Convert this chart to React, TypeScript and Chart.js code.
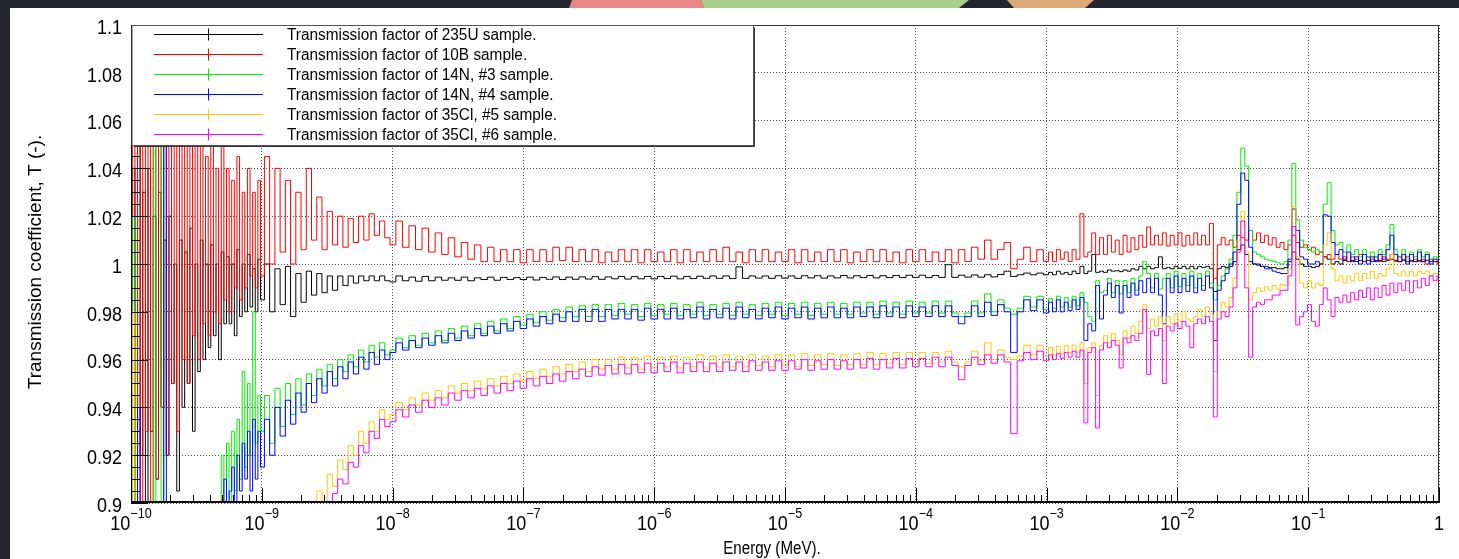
import React, { useEffect, useRef } from "react";
import { Chart, registerables } from "chart.js";

Chart.register(...registerables);

// ---------- energy grid: log10(E / MeV) ----------
const LOGE_A = [
  -10.0, -9.98, -9.96, -9.94, -9.92, -9.9, -9.88, -9.86, -9.84, -9.82,
  -9.8, -9.78, -9.76, -9.74, -9.72, -9.7, -9.68, -9.66, -9.64, -9.62,
  -9.6, -9.58, -9.56, -9.54, -9.52, -9.5, -9.48, -9.46, -9.44, -9.42,
  -9.4, -9.38, -9.36, -9.34, -9.32, -9.3, -9.28, -9.26, -9.24, -9.22,
  -9.2, -9.18, -9.16, -9.14, -9.12, -9.1, -9.08, -9.06, -9.04, -9.02,
];
const LOGE_B = [
  -9.0, -8.96, -8.92, -8.88, -8.84, -8.8, -8.76, -8.72, -8.68, -8.64,
  -8.6, -8.56, -8.52, -8.48, -8.44, -8.4, -8.36, -8.32, -8.28, -8.24,
  -8.2, -8.16, -8.12, -8.08, -8.04,
];
const LOGE_C = [
  -8.0, -7.95, -7.9, -7.85, -7.8, -7.75, -7.7, -7.65, -7.6, -7.55,
  -7.5, -7.45, -7.4, -7.35, -7.3, -7.25, -7.2, -7.15, -7.1, -7.05,
  -7.0, -6.95, -6.9, -6.85, -6.8, -6.75, -6.7, -6.65, -6.6, -6.55,
  -6.5, -6.45, -6.4, -6.35, -6.3, -6.25, -6.2, -6.15, -6.1, -6.05,
  -6.0, -5.95, -5.9, -5.85, -5.8, -5.75, -5.7, -5.65, -5.6, -5.55,
  -5.5, -5.45, -5.4, -5.35, -5.3, -5.25, -5.2, -5.15, -5.1, -5.05,
  -5.0, -4.95, -4.9, -4.85, -4.8, -4.75, -4.7, -4.65, -4.6, -4.55,
  -4.5, -4.45, -4.4, -4.35, -4.3, -4.25, -4.2, -4.15, -4.1, -4.05,
  -4.0, -3.95, -3.9, -3.85, -3.8, -3.75, -3.7, -3.65, -3.6, -3.55,
  -3.5, -3.45, -3.4, -3.35, -3.3, -3.25, -3.2, -3.15, -3.1, -3.05,
];
const LOGE_D = [
  -3.0, -2.97, -2.94, -2.91, -2.88, -2.85, -2.82, -2.79, -2.76, -2.73,
  -2.7, -2.67, -2.64, -2.61, -2.58, -2.55, -2.52, -2.49, -2.46, -2.43,
  -2.4, -2.37, -2.34, -2.31, -2.28, -2.25, -2.22, -2.19, -2.16, -2.13,
  -2.1, -2.07, -2.04, -2.01, -1.98, -1.95, -1.92, -1.89, -1.86, -1.83,
  -1.8, -1.77, -1.74, -1.71, -1.68, -1.65, -1.62, -1.59, -1.56, -1.53,
  -1.5, -1.47, -1.44, -1.41, -1.38, -1.35, -1.32, -1.29, -1.26, -1.23,
  -1.2, -1.17, -1.14, -1.11, -1.08, -1.05, -1.02, -0.99, -0.96, -0.93,
  -0.9, -0.87, -0.84, -0.81, -0.78, -0.75, -0.72, -0.69, -0.66, -0.63,
  -0.6, -0.57, -0.54, -0.51, -0.48, -0.45, -0.42, -0.39, -0.36, -0.33,
  -0.3, -0.27, -0.24, -0.21, -0.18, -0.15, -0.12, -0.09, -0.06, -0.03,
  0.0,
];

// ---------- 235U sample (black) ----------
const U235_A = [
  0.95, 1.04, 0.9, 1.05, 0.92, 1.03, 0.9, 1.04, 0.93, 1.02,
  0.91, 1.03, 0.94, 1.01, 0.92, 1.02, 0.95, 1.0, 0.905, 1.01,
  0.94, 1.005, 0.95, 1.015, 0.93, 1.0, 0.955, 1.01, 0.96, 1.0,
  0.965, 1.008, 0.97, 1.0, 0.96, 1.005, 0.975, 1.003, 0.975, 1.0,
  0.97, 1.006, 0.978, 1.0, 0.98, 1.004, 0.982, 0.998, 0.98, 1.002,
];
const U235_B = [
  0.985, 1.0, 0.98, 0.998, 0.983, 0.999, 0.978, 0.996, 0.984, 0.997,
  0.987, 0.996, 0.988, 0.995, 0.989, 0.995, 0.991, 0.995, 0.992, 0.995,
  0.993, 0.995, 0.993, 0.995, 0.993,
];
const U235_C = [
  0.9925, 0.995, 0.993, 0.9945, 0.9928, 0.9948, 0.993, 0.9945, 0.9932, 0.9942,
  0.9932, 0.9945, 0.993, 0.9942, 0.9935, 0.9945, 0.9932, 0.9944, 0.9935, 0.9943,
  0.9935, 0.9945, 0.9933, 0.9944, 0.9936, 0.9946, 0.9935, 0.9945, 0.9936, 0.9946,
  0.9937, 0.9947, 0.9936, 0.9946, 0.9938, 0.9948, 0.9937, 0.9947, 0.9938, 0.9948,
  0.9938, 0.9948, 0.9939, 0.9949, 0.9938, 0.9948, 0.9939, 0.9949, 0.994, 0.995,
  0.994, 0.995, 0.9939, 0.9988, 0.994, 0.995, 0.9941, 0.995, 0.994, 0.9951,
  0.9941, 0.995, 0.994, 0.9951, 0.9942, 0.9951, 0.9941, 0.995, 0.9942, 0.9952,
  0.9942, 0.9951, 0.9943, 0.9952, 0.9942, 0.9951, 0.9943, 0.9952, 0.9943, 0.9953,
  0.9944, 0.9953, 0.9943, 0.9952, 0.9944, 0.9997, 0.9944, 0.9953, 0.9945, 0.9954,
  0.9945, 0.9955, 0.9946, 0.9956, 0.997, 0.9948, 0.9955, 0.9962, 0.9955, 0.9962,
];
const U235_D = [
  0.9955, 0.9965, 0.9955, 0.997, 0.9958, 0.9965, 0.9956, 0.997, 0.996, 0.999,
  0.996, 0.997, 1.004, 0.9965, 0.997, 0.9965, 0.9975, 0.997, 0.9972, 0.9968,
  0.9975, 0.997, 0.998, 0.9975, 0.999, 0.998, 0.999, 0.998, 0.9985, 1.003,
  0.998, 0.9985, 0.998, 0.999, 0.9982, 0.999, 0.998, 0.999, 0.998, 0.999,
  0.9985, 0.999, 0.998, 0.9885, 0.998, 0.999, 0.9985, 0.999, 1.001, 1.006,
  1.008, 1.004, 1.001, 1.0, 0.9995, 0.999, 0.999, 0.9985, 0.9985, 0.998,
  0.998, 0.9985, 1.001, 1.005, 1.002, 1.0, 0.999, 0.999, 0.9985, 0.999,
  1.0, 1.003, 1.002, 1.0, 1.001, 1.0, 1.0015, 1.001, 1.0015, 1.001,
  1.0015, 1.001, 1.0015, 1.001, 1.0015, 1.0015, 1.001, 1.0015, 1.002, 1.0015,
  1.001, 1.0015, 1.001, 1.0015, 1.001, 1.0015, 1.001, 1.0015, 1.001, 1.001,
  1.001,
];

// ---------- 10B sample (red) ----------
const B10_A = [
  0.9, 1.1, 0.92, 1.1, 0.9, 1.08, 0.93, 1.1, 0.9, 1.06,
  0.91, 1.1, 0.94, 1.07, 0.92, 1.09, 0.95, 1.06, 0.93, 1.08,
  0.96, 1.05, 0.95, 1.07, 0.97, 1.05, 0.96, 1.06, 0.975, 1.045,
  0.97, 1.05, 0.98, 1.04, 0.975, 1.05, 0.985, 1.04, 0.98, 1.035,
  0.99, 1.045, 0.985, 1.03, 0.99, 1.04, 0.995, 1.03, 0.99, 1.035,
];
const B10_B = [
  0.995, 1.045, 1.0, 1.04, 1.005, 1.035, 1.0, 1.03, 1.006, 1.04,
  1.01, 1.028, 1.006, 1.022, 1.008, 1.02, 1.007, 1.019, 1.009, 1.02,
  1.01, 1.021, 1.012, 1.018, 1.011,
];
const B10_C = [
  1.008, 1.018, 1.007, 1.016, 1.006, 1.015, 1.005, 1.013, 1.004, 1.011,
  1.003, 1.009, 1.002, 1.008, 1.001, 1.007, 1.001, 1.006, 1.001, 1.006,
  1.0005, 1.006, 1.001, 1.006, 1.001, 1.007, 1.0015, 1.007, 1.001, 1.006,
  1.001, 1.006, 1.0005, 1.005, 1.001, 1.006, 1.001, 1.006, 1.0005, 1.006,
  1.001, 1.005, 1.001, 1.006, 1.0005, 1.006, 1.001, 1.005, 1.001, 1.006,
  1.001, 1.007, 1.001, 1.005, 1.0005, 1.006, 1.001, 1.006, 1.001, 1.005,
  1.001, 1.006, 1.0005, 1.006, 1.001, 1.005, 1.001, 1.006, 1.001, 1.006,
  1.0005, 1.005, 1.001, 1.006, 1.001, 1.006, 1.001, 1.005, 1.0005, 1.006,
  1.001, 1.006, 1.001, 1.005, 1.001, 1.006, 1.0005, 1.006, 1.001, 1.007,
  1.002, 1.01, 1.002, 1.006, 1.009, 0.998, 1.002, 1.007, 1.001, 1.006,
];
const B10_D = [
  1.001, 1.005, 1.001, 1.006, 1.002, 1.005, 1.001, 1.006, 1.002, 1.021,
  1.003, 1.005, 1.013, 1.004, 1.011, 1.004, 1.012, 1.005, 1.01, 1.004,
  1.012, 1.005, 1.011, 1.006, 1.012, 1.007, 1.0155, 1.008, 1.012, 1.008,
  1.013, 1.0075, 1.012, 1.008, 1.013, 1.0075, 1.012, 1.008, 1.013, 1.008,
  1.012, 1.008, 1.017, 0.994, 1.008, 1.011, 1.008, 1.01, 1.007, 1.012,
  1.011, 1.01, 1.014, 1.01, 1.013, 1.009, 1.012, 1.008, 1.011, 1.007,
  1.009, 1.006, 1.008, 1.012, 1.009, 1.007, 1.008, 1.006, 1.007, 1.004,
  1.005, 1.003, 1.004, 1.002, 1.004, 1.002, 1.003, 1.001, 1.003, 1.002,
  1.004, 1.001, 1.003, 1.002, 1.003, 1.001, 1.003, 1.002, 1.004, 1.001,
  1.003, 1.002, 1.003, 1.001, 1.002, 1.001, 1.002, 1.0, 1.002, 1.001,
  1.0,
];

// ---------- 14N, #3 sample (green) ----------
const N14_3_A = [
  0.9, 1.02, 0.9, 0.9, 0.9, 0.9, 0.9, 0.9, 0.9, 1.1,
  0.9, 0.9, 1.1, 0.9, 0.9, 0.9, 0.9, 0.9, 0.9, 0.9,
  0.9, 0.9, 0.9, 0.9, 0.9, 0.9, 0.9, 0.9, 0.9, 0.9,
  0.9, 0.9, 0.9, 0.9, 0.9, 0.92, 0.9, 0.925, 0.9, 0.93,
  0.905, 0.935, 0.91, 0.955, 0.915, 0.95, 0.92, 0.98, 0.925, 0.945,
];
const N14_3_B = [
  0.93, 0.945, 0.925, 0.948, 0.932, 0.95, 0.937, 0.952, 0.941, 0.954,
  0.945, 0.956, 0.949, 0.958, 0.952, 0.96, 0.955, 0.962, 0.957, 0.964,
  0.959, 0.966, 0.961, 0.967, 0.962,
];
const N14_3_C = [
  0.964, 0.969, 0.965, 0.97, 0.966, 0.971, 0.967, 0.972, 0.968, 0.973,
  0.969, 0.974, 0.97, 0.975, 0.971, 0.976, 0.972, 0.977, 0.973, 0.978,
  0.9745, 0.979, 0.9755, 0.98, 0.9765, 0.981, 0.9775, 0.982, 0.978, 0.9825,
  0.978, 0.983, 0.978, 0.983, 0.9785, 0.9835, 0.979, 0.983, 0.978, 0.9835,
  0.9785, 0.983, 0.979, 0.9835, 0.9785, 0.983, 0.979, 0.984, 0.9785, 0.983,
  0.979, 0.9835, 0.9785, 0.984, 0.979, 0.983, 0.9785, 0.9835, 0.979, 0.984,
  0.9785, 0.9835, 0.979, 0.984, 0.9785, 0.9835, 0.979, 0.984, 0.979, 0.9835,
  0.979, 0.984, 0.9795, 0.984, 0.979, 0.9845, 0.9795, 0.984, 0.979, 0.9845,
  0.9795, 0.984, 0.9795, 0.9845, 0.9795, 0.9845, 0.9795, 0.978, 0.9795, 0.9845,
  0.9795, 0.9875, 0.98, 0.985, 0.9815, 0.979, 0.9815, 0.9865, 0.982, 0.9865,
];
const N14_3_D = [
  0.981, 0.9855, 0.9815, 0.9865, 0.982, 0.986, 0.982, 0.9865, 0.9825, 0.988,
  0.984, 0.978, 0.976, 0.993, 0.988, 0.989, 0.994, 0.988, 0.993, 0.9875,
  0.993, 0.988, 0.994, 0.989, 0.995, 1.001, 0.996, 0.99, 0.996, 0.9895,
  0.994, 0.996, 0.99, 0.997, 0.9905, 0.996, 0.991, 0.997, 0.99, 0.996,
  0.991, 0.997, 0.992, 0.985, 0.991, 0.995, 0.998, 1.002, 1.012, 1.03,
  1.0485, 1.041, 1.014, 1.005, 1.004, 1.003, 1.002, 1.0015, 1.001, 1.0005,
  1.0, 1.001, 1.01, 1.042, 1.0185, 1.01, 1.007, 1.006, 1.005, 1.006,
  1.005, 1.025, 1.034, 1.014, 1.008, 1.009, 1.005, 1.008, 1.004, 1.006,
  1.003, 1.006, 1.003, 1.005, 1.003, 1.006, 1.004, 1.008, 1.0165, 1.006,
  1.003, 1.006, 1.002, 1.005, 1.003, 1.006, 1.003, 1.005, 1.002, 1.003,
  1.002,
];

// ---------- 14N, #4 sample (blue) ----------
const N14_4_A = [
  0.9, 0.9, 0.9, 0.94, 0.9, 0.9, 0.9, 0.9, 0.9, 0.9,
  0.9, 0.9, 0.9, 1.05, 0.9, 0.9, 0.9, 0.9, 0.9, 0.9,
  0.9, 0.9, 0.9, 0.9, 0.9, 0.9, 0.9, 0.9, 0.9, 0.9,
  0.9, 0.9, 0.9, 0.9, 0.9, 0.9, 0.91, 0.9, 0.905, 0.915,
  0.9, 0.92, 0.905, 0.925, 0.91, 0.93, 0.905, 0.935, 0.91, 0.93,
];
const N14_4_B = [
  0.915, 0.935, 0.92, 0.94, 0.928, 0.943, 0.933, 0.946, 0.938, 0.95,
  0.942, 0.952, 0.946, 0.955, 0.949, 0.957, 0.952, 0.959, 0.954, 0.961,
  0.956, 0.963, 0.958, 0.964, 0.96,
];
const N14_4_C = [
  0.963, 0.967, 0.964, 0.968, 0.965, 0.969, 0.966, 0.97, 0.967, 0.971,
  0.968, 0.972, 0.969, 0.973, 0.97, 0.974, 0.971, 0.975, 0.972, 0.976,
  0.973, 0.977, 0.974, 0.978, 0.975, 0.979, 0.976, 0.98, 0.976, 0.981,
  0.976, 0.981, 0.976, 0.981, 0.977, 0.981, 0.977, 0.981, 0.9765, 0.9815,
  0.977, 0.981, 0.977, 0.9815, 0.977, 0.981, 0.9775, 0.982, 0.977, 0.981,
  0.9775, 0.9815, 0.977, 0.982, 0.9775, 0.981, 0.977, 0.9815, 0.9775, 0.982,
  0.977, 0.9815, 0.9775, 0.982, 0.977, 0.9815, 0.9775, 0.982, 0.9775, 0.9815,
  0.9775, 0.982, 0.978, 0.982, 0.9775, 0.9825, 0.978, 0.982, 0.9775, 0.9825,
  0.978, 0.982, 0.978, 0.9825, 0.978, 0.9825, 0.978, 0.975, 0.978, 0.9825,
  0.978, 0.984, 0.9785, 0.983, 0.98, 0.963, 0.98, 0.985, 0.9805, 0.985,
];
const N14_4_D = [
  0.9795, 0.984, 0.98, 0.985, 0.98, 0.984, 0.9805, 0.985, 0.981, 0.986,
  0.968, 0.975, 0.972, 0.991, 0.977, 0.987, 0.992, 0.986, 0.991, 0.9795,
  0.991, 0.986, 0.992, 0.987, 0.993, 0.988, 0.994, 0.988, 0.994, 0.987,
  0.975, 0.994, 0.988, 0.995, 0.988, 0.994, 0.9885, 0.995, 0.988, 0.994,
  0.989, 0.995, 0.99, 0.968, 0.989, 0.993, 0.996, 1.0, 1.005, 1.025,
  1.038, 1.035, 1.007, 1.0, 1.0, 0.999, 0.998, 0.998, 0.997, 0.9965,
  0.996, 0.996, 1.002, 1.023, 1.014, 1.003, 1.002, 1.0, 1.0, 1.001,
  1.0, 1.0206, 1.02, 1.009, 1.004, 1.006, 1.002, 1.005, 1.001, 1.003,
  1.0, 1.004, 1.0, 1.003, 1.001, 1.004, 1.002, 1.006, 1.012, 1.004,
  1.001, 1.004, 1.0, 1.004, 1.001, 1.005, 1.001, 1.004, 1.0, 1.002,
  1.001,
];

// ---------- 35Cl, #5 sample (yellow) ----------
const CL35_5_A = [
  0.9, 0.98, 0.9, 0.9, 0.9, 0.9, 0.9, 0.9, 0.9, 0.9,
  0.9, 0.9, 0.9, 0.9, 0.9, 0.9, 0.9, 0.9, 0.9, 0.9,
  0.9, 0.9, 0.9, 0.9, 0.9, 0.9, 0.9, 0.9, 0.9, 0.9,
  0.9, 0.9, 0.9, 0.9, 0.9, 0.9, 0.9, 0.9, 0.9, 0.9,
  0.9, 0.9, 0.9, 0.9, 0.9, 0.9, 0.9, 0.9, 0.9, 0.9,
];
const CL35_5_B = [
  0.9, 0.9, 0.9, 0.9, 0.9, 0.9, 0.9, 0.9, 0.9, 0.9,
  0.9, 0.905, 0.9, 0.912, 0.907, 0.918, 0.914, 0.924, 0.92, 0.93,
  0.925, 0.934, 0.93, 0.939, 0.935,
];
const CL35_5_C = [
  0.937, 0.942, 0.939, 0.944, 0.941, 0.946, 0.943, 0.947, 0.944, 0.949,
  0.946, 0.95, 0.947, 0.951, 0.948, 0.952, 0.949, 0.953, 0.95, 0.954,
  0.951, 0.955, 0.952, 0.956, 0.953, 0.957, 0.954, 0.958, 0.955, 0.959,
  0.955, 0.96, 0.956, 0.96, 0.956, 0.961, 0.9565, 0.961, 0.956, 0.9615,
  0.9565, 0.961, 0.957, 0.9615, 0.9565, 0.961, 0.957, 0.962, 0.9565, 0.9615,
  0.957, 0.962, 0.957, 0.9615, 0.957, 0.962, 0.9575, 0.9615, 0.957, 0.962,
  0.9575, 0.962, 0.957, 0.9625, 0.9575, 0.962, 0.958, 0.9625, 0.9575, 0.962,
  0.958, 0.9625, 0.958, 0.963, 0.958, 0.9625, 0.9585, 0.963, 0.958, 0.963,
  0.9585, 0.963, 0.9585, 0.963, 0.959, 0.9635, 0.959, 0.957, 0.959, 0.9635,
  0.9595, 0.967, 0.96, 0.964, 0.961, 0.96, 0.9615, 0.966, 0.962, 0.966,
];
const CL35_5_D = [
  0.9615, 0.965, 0.962, 0.9655, 0.9625, 0.966, 0.963, 0.966, 0.963, 0.967,
  0.95, 0.965, 0.967, 0.945, 0.966, 0.97, 0.967, 0.971, 0.968, 0.962,
  0.972, 0.969, 0.974, 0.971, 0.976, 0.983, 0.973, 0.977, 0.974, 0.978,
  0.968, 0.978, 0.975, 0.979, 0.976, 0.98, 0.977, 0.976, 0.978, 0.981,
  0.978, 0.982, 0.979, 0.955, 0.98, 0.984, 0.982, 0.986, 0.994, 1.01,
  1.022, 1.005, 0.985, 0.988, 0.99, 0.9885, 0.9905, 0.989, 0.991, 0.9895,
  0.9915, 0.991, 0.998, 1.024, 1.003, 0.992, 0.99, 0.993, 0.99, 0.992,
  0.991, 1.008, 1.013, 0.998, 0.993, 0.995, 0.992, 0.995, 0.993, 0.996,
  0.993, 0.996, 0.994, 0.997, 0.994, 0.996, 0.995, 0.998, 1.004, 0.996,
  0.995, 0.997, 0.995, 0.997, 0.995, 0.997, 0.996, 0.997, 0.995, 0.996,
  0.996,
];

// ---------- 35Cl, #6 sample (magenta) ----------
const CL35_6_A = [
  0.9, 0.9, 0.9, 0.9, 0.9, 0.9, 0.9, 0.9, 0.9, 0.9,
  0.9, 0.9, 0.9, 0.9, 0.9, 0.9, 0.9, 0.9, 0.9, 0.9,
  0.9, 0.9, 0.9, 0.9, 0.9, 0.9, 0.9, 0.9, 0.9, 0.9,
  0.9, 0.9, 0.9, 0.9, 0.9, 0.9, 0.9, 0.9, 0.9, 0.9,
  0.9, 0.9, 0.9, 0.9, 0.9, 0.9, 0.9, 0.9, 0.9, 0.9,
];
const CL35_6_B = [
  0.9, 0.9, 0.9, 0.9, 0.9, 0.9, 0.9, 0.9, 0.9, 0.9,
  0.9, 0.9, 0.9, 0.9, 0.904, 0.91, 0.908, 0.917, 0.915, 0.924,
  0.921, 0.93, 0.927, 0.935, 0.932,
];
const CL35_6_C = [
  0.934, 0.939, 0.936, 0.941, 0.938, 0.943, 0.94, 0.944, 0.941, 0.946,
  0.943, 0.947, 0.944, 0.948, 0.945, 0.949, 0.946, 0.95, 0.947, 0.951,
  0.948, 0.952, 0.949, 0.953, 0.95, 0.954, 0.951, 0.955, 0.952, 0.956,
  0.953, 0.957, 0.9535, 0.9575, 0.954, 0.958, 0.954, 0.958, 0.9545, 0.9585,
  0.9545, 0.9585, 0.955, 0.959, 0.9545, 0.9585, 0.955, 0.959, 0.955, 0.9585,
  0.955, 0.959, 0.9555, 0.959, 0.955, 0.9595, 0.9555, 0.959, 0.9555, 0.9595,
  0.9555, 0.9595, 0.956, 0.96, 0.9555, 0.9595, 0.956, 0.96, 0.956, 0.9595,
  0.956, 0.96, 0.9565, 0.9605, 0.956, 0.96, 0.9565, 0.9605, 0.9565, 0.9605,
  0.957, 0.9605, 0.957, 0.961, 0.957, 0.961, 0.9575, 0.9516, 0.9575, 0.961,
  0.958, 0.962, 0.9585, 0.962, 0.959, 0.929, 0.9595, 0.963, 0.96, 0.9635,
];
const CL35_6_D = [
  0.9595, 0.962, 0.96, 0.9625, 0.9605, 0.963, 0.961, 0.9635, 0.961, 0.964,
  0.9335, 0.963, 0.965, 0.9314, 0.964, 0.967, 0.965, 0.968, 0.966, 0.9565,
  0.969, 0.967, 0.97, 0.968, 0.971, 0.981, 0.9537, 0.972, 0.97, 0.973,
  0.95, 0.974, 0.972, 0.975, 0.973, 0.976, 0.974, 0.965, 0.975, 0.977,
  0.975, 0.978, 0.976, 0.936, 0.977, 0.98, 0.978, 0.982, 0.99, 1.005,
  1.018, 0.99, 0.961, 0.982, 0.984, 0.983, 0.985, 0.985, 0.987, 0.987,
  0.989, 0.989, 0.995, 1.0157, 0.9745, 0.978, 0.98, 0.983, 0.976, 0.974,
  0.983, 0.99, 0.985, 0.978, 0.986, 0.984, 0.987, 0.984, 0.988, 0.985,
  0.989, 0.986, 0.99, 0.985, 0.99, 0.986, 0.991, 0.987, 0.992, 0.988,
  0.992, 0.989, 0.993, 0.988, 0.993, 0.99, 0.994, 0.991, 0.995, 0.993,
  0.995,
];

// ---------- labels / ticks ----------
const SERIES_NAMES = [
  "Transmission factor of 235U sample.",
  "Transmission factor of 10B sample.",
  "Transmission factor of 14N, #3 sample.",
  "Transmission factor of 14N, #4 sample.",
  "Transmission factor of 35Cl, #5 sample.",
  "Transmission factor of 35Cl, #6 sample.",
];
const SERIES_COLORS = ["#000000", "#ff0000", "#00ee00", "#0000ff", "#ffc800", "#ff00ff"];

const Y_TICK_VALUES = [0.9, 0.92, 0.94, 0.96, 0.98, 1.0, 1.02, 1.04, 1.06, 1.08, 1.1];
const Y_TICK_LABELS = ["0.9", "0.92", "0.94", "0.96", "0.98", "1", "1.02", "1.04", "1.06", "1.08", "1.1"];
const X_TICK_VALUES = [1e-10, 1e-9, 1e-8, 1e-7, 1e-6, 1e-5, 1e-4, 1e-3, 1e-2, 1e-1, 1];
const X_TICK_BASE = ["10", "10", "10", "10", "10", "10", "10", "10", "10", "10", "1"];
const X_TICK_SUP = ["\u221210", "\u22129", "\u22128", "\u22127", "\u22126", "\u22125", "\u22124", "\u22123", "\u22122", "\u22121", ""];

const X_TITLE = "Energy (MeV).";
const Y_TITLE = "Transmission coefficient, T (-).";

const FONT = '"Liberation Sans", Arial, Helvetica, sans-serif';

const ENERGY = [...LOGE_A, ...LOGE_B, ...LOGE_C, ...LOGE_D].map((e) => Math.pow(10, e));
const SERIES_VALUES = [
  [...U235_A, ...U235_B, ...U235_C, ...U235_D],
  [...B10_A, ...B10_B, ...B10_C, ...B10_D],
  [...N14_3_A, ...N14_3_B, ...N14_3_C, ...N14_3_D],
  [...N14_4_A, ...N14_4_B, ...N14_4_C, ...N14_4_D],
  [...CL35_5_A, ...CL35_5_B, ...CL35_5_C, ...CL35_5_D],
  [...CL35_6_A, ...CL35_6_B, ...CL35_6_C, ...CL35_6_D],
];

function squishText(ctx: CanvasRenderingContext2D, text: string, x: number, y: number, size: number, sx: number, align: CanvasTextAlign) {
  ctx.save();
  ctx.font = `${size}px ${FONT}`;
  ctx.translate(x, y);
  ctx.scale(sx, 1);
  ctx.textAlign = align;
  ctx.textBaseline = "alphabetic";
  ctx.fillStyle = "#000";
  ctx.fillText(text, 0, 0);
  ctx.restore();
}

const rootStylePlugin = {
  id: "rootStyle",
  afterDraw(chart: any) {
    const ctx: CanvasRenderingContext2D = chart.ctx;
    const a = chart.chartArea;
    const xs = chart.scales.x;
    const ys = chart.scales.y;
    ctx.save();

    // inner ticks
    ctx.strokeStyle = "#000";
    ctx.lineWidth = 1;
    ctx.beginPath();
    for (let d = -10; d <= 0; d++) {
      for (let m = 1; m <= 9; m++) {
        if (d === 0 && m > 1) break;
        const px = Math.round(xs.getPixelForValue(m * Math.pow(10, d))) + 0.5;
        const len = m === 1 ? 15 : 8;
        ctx.moveTo(px, a.bottom);
        ctx.lineTo(px, a.bottom - len);
      }
    }
    for (let k = 0; k <= 40; k++) {
      const py = Math.round(ys.getPixelForValue(0.9 + k * 0.005)) + 0.5;
      const len = k % 4 === 0 ? 17 : 9;
      ctx.moveTo(a.left, py);
      ctx.lineTo(a.left + len, py);
    }
    ctx.stroke();

    // frame
    ctx.strokeStyle = "#333";
    ctx.lineWidth = 1;
    ctx.strokeRect(a.left + 0.5, a.top + 0.5, a.right - a.left - 1, a.bottom - a.top - 1);
    ctx.strokeStyle = "#000";
    ctx.lineWidth = 2;
    ctx.beginPath();
    ctx.moveTo(a.left, a.bottom - 1);
    ctx.lineTo(a.right, a.bottom - 1);
    ctx.stroke();
    ctx.lineWidth = 1;
    ctx.beginPath();
    ctx.moveTo(a.left + 0.5, a.top);
    ctx.lineTo(a.left + 0.5, a.bottom);
    ctx.stroke();

    // legend
    const lx0 = a.left + 1, ly0 = a.top + 0.5, lx1 = 753.5, ly1 = 145.5;
    ctx.fillStyle = "#fff";
    ctx.fillRect(lx0, ly0, lx1 - lx0, ly1 - ly0);
    ctx.strokeStyle = "#555";
    ctx.strokeRect(lx0, ly0, lx1 - lx0, ly1 - ly0);
    ctx.strokeStyle = "#333";
    ctx.beginPath();
    ctx.moveTo(lx1 + 1, ly0 + 2);
    ctx.lineTo(lx1 + 1, ly1 + 1);
    ctx.lineTo(lx0 + 2, ly1 + 1);
    ctx.stroke();
    SERIES_NAMES.forEach((name, k) => {
      const ry = Math.round(34 + 20 * k) + 0.5;
      ctx.strokeStyle = SERIES_COLORS[k];
      ctx.lineWidth = 1;
      ctx.beginPath();
      ctx.moveTo(154, ry);
      ctx.lineTo(263, ry);
      ctx.moveTo(208.5, ry - 6);
      ctx.lineTo(208.5, ry + 6);
      ctx.stroke();
      squishText(ctx, name, 287, ry + 5.5, 16, 0.96, "left");
    });

    // y tick labels
    Y_TICK_VALUES.forEach((v, k) => {
      const py = ys.getPixelForValue(v);
      squishText(ctx, Y_TICK_LABELS[k], a.left - 9, py + 8.8, 20, 0.9, "right");
    });

    // x tick labels (10^n with superscript)
    X_TICK_VALUES.forEach((v, k) => {
      const px = xs.getPixelForValue(v);
      ctx.font = `20px ${FONT}`;
      const wb = ctx.measureText(X_TICK_BASE[k]).width * 0.9;
      ctx.font = `14px ${FONT}`;
      const ws = ctx.measureText(X_TICK_SUP[k]).width * 0.9;
      const x0 = px - (wb + ws) / 2;
      squishText(ctx, X_TICK_BASE[k], x0, 530, 20, 0.9, "left");
      if (X_TICK_SUP[k]) squishText(ctx, X_TICK_SUP[k], x0 + wb, 518, 14, 0.9, "left");
    });

    // axis titles
    squishText(ctx, X_TITLE, 772, 554, 18, 0.84, "center");
    ctx.save();
    ctx.translate(41, 262);
    ctx.rotate(-Math.PI / 2);
    ctx.font = `19px ${FONT}`;
    ctx.textAlign = "center";
    ctx.textBaseline = "alphabetic";
    ctx.fillStyle = "#000";
    ctx.fillText(Y_TITLE, 0, 0);
    ctx.restore();

    ctx.restore();
  },
};

export default function App() {
  const ref = useRef<HTMLCanvasElement | null>(null);

  useEffect(() => {
    if (!ref.current) return;
    const datasets = SERIES_VALUES.map((vals, k) => ({
      label: SERIES_NAMES[k],
      data: vals.map((v, i) => ({ x: ENERGY[i], y: v })),
      borderColor: SERIES_COLORS[k],
      backgroundColor: SERIES_COLORS[k],
      borderWidth: 1,
      pointRadius: 0,
      tension: 0,
      stepped: "middle",
      fill: false,
      order: 6 - k,
    }));
    const gridCommon = {
      color: "rgba(0,0,0,0.7)",
      lineWidth: 1,
      drawTicks: false,
    };
    const chart = new Chart(ref.current, {
      type: "line",
      data: { datasets },
      options: {
        responsive: false,
        animation: false,
        devicePixelRatio: 1,
        layout: { padding: { left: 131, top: 25, right: 20, bottom: 56 } },
        plugins: { legend: { display: false }, tooltip: { enabled: false } },
        scales: {
          x: {
            type: "logarithmic",
            min: 1e-10,
            max: 1,
            ticks: { display: false },
            grid: gridCommon,
            border: { display: false, dash: [1, 2] },
            afterBuildTicks: (s: any) => {
              s.ticks = X_TICK_VALUES.map((v) => ({ value: v }));
            },
          },
          y: {
            type: "linear",
            min: 0.9,
            max: 1.1,
            ticks: { display: false, stepSize: 0.02 },
            grid: gridCommon,
            border: { display: false, dash: [1, 2] },
            afterBuildTicks: (s: any) => {
              s.ticks = Y_TICK_VALUES.map((v) => ({ value: v }));
            },
          },
        },
      } as any,
      plugins: [rootStylePlugin],
    });
    return () => chart.destroy();
  }, []);

  return (
    <div style={{ position: "fixed", left: 0, top: 0, width: 1459, height: 559, background: "#24272e", overflow: "hidden" }}>
      <div style={{ position: "absolute", left: 0, top: 0, width: 1459, height: 8, background: "#e8878a", clipPath: "polygon(572px 0, 701px 0, 704px 8px, 569px 8px)" }} />
      <div style={{ position: "absolute", left: 0, top: 0, width: 1459, height: 8, background: "#a9cf8f", clipPath: "polygon(701px 0, 969px 0, 959px 8px, 704px 8px)" }} />
      <div style={{ position: "absolute", left: 0, top: 0, width: 1459, height: 8, background: "#dca878", clipPath: "polygon(1007px 0, 1094px 0, 1085px 8px, 1014px 8px)" }} />
      <div style={{ position: "absolute", left: 10, top: 8, width: 1449, height: 551, background: "#ffffff" }} />
      <canvas ref={ref} width={1459} height={559} style={{ position: "absolute", left: 0, top: 0, width: 1459, height: 559 }} />
    </div>
  );
}
